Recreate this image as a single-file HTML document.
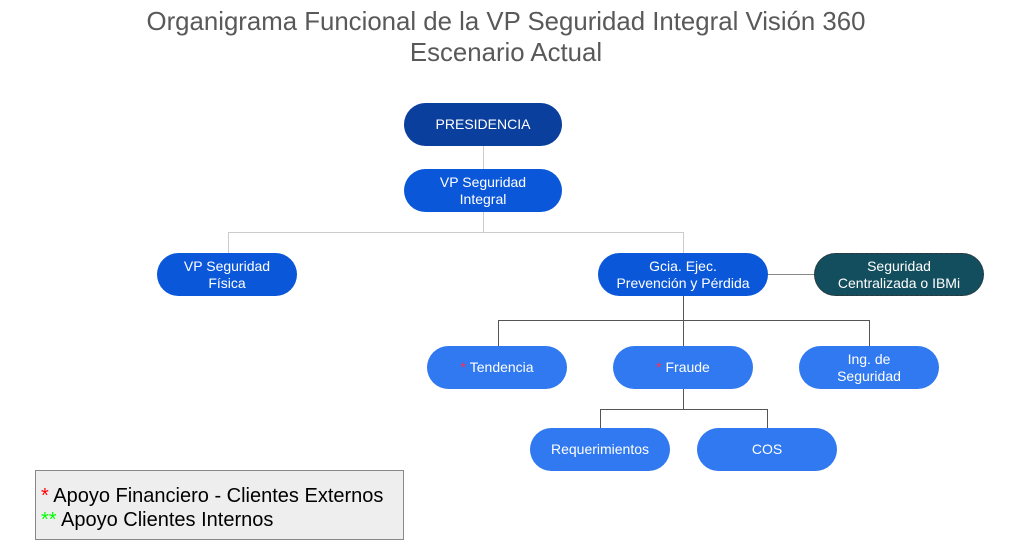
<!DOCTYPE html>
<html><head><meta charset="utf-8"><style>
body{margin:0;width:1022px;height:557px;background:#fff;position:relative;font-family:"Liberation Sans",sans-serif;overflow:hidden}
.t{position:absolute;left:0;width:1012px;text-align:center;color:#595959;font-size:25.8px;line-height:31px}
.n{position:absolute;height:43px;border-radius:22px;color:#fff;font-size:14px;line-height:17px;display:flex;align-items:center;justify-content:center;text-align:center;box-sizing:border-box}
.d{background:#0b3f9e}.m{background:#0b57d9}.l{background:#3079f0}
.h{position:absolute;background:#aaa;height:1px}.v{position:absolute;background:#aaa;width:1px}
.k{background:#555}
.r{color:#ff2d55}
</style></head><body>
<div class="t" style="top:7px">Organigrama Funcional de la VP Seguridad Integral Visión 360</div>
<div class="t" style="top:38px">Escenario Actual</div>

<div class="v" style="left:483px;top:146px;height:23px;background:#ccc"></div>
<div class="v" style="left:483px;top:212px;height:20px;background:#ccc"></div>
<div class="h" style="left:228px;top:232px;width:456px;background:#ccc"></div>
<div class="v" style="left:228px;top:232px;height:21px;background:#ccc"></div>
<div class="v" style="left:683px;top:232px;height:21px;background:#ccc"></div>
<div class="h" style="left:768px;top:274px;width:46px;background:#888"></div>
<div class="v k" style="left:683px;top:296px;height:50px"></div>
<div class="h k" style="left:498px;top:320px;width:372px"></div>
<div class="v k" style="left:498px;top:320px;height:26px"></div>
<div class="v k" style="left:869px;top:320px;height:26px"></div>
<div class="v k" style="left:683px;top:389px;height:20px"></div>
<div class="h k" style="left:600px;top:409px;width:168px"></div>
<div class="v k" style="left:600px;top:409px;height:19px"></div>
<div class="v k" style="left:767px;top:409px;height:19px"></div>

<div class="n d" style="left:404px;top:103px;width:158px">PRESIDENCIA</div>
<div class="n m" style="left:404px;top:169px;width:158px">VP Seguridad<br>Integral</div>
<div class="n m" style="left:157px;top:253px;width:140px">VP Seguridad<br>Física</div>
<div class="n m" style="left:598px;top:253px;width:170px">Gcia. Ejec.<br>Prevención y Pérdida</div>
<div class="n" style="left:814px;top:253px;width:170px;background:#134e5e;border:1px dashed #333">Seguridad<br>Centralizada o IBMi</div>
<div class="n l" style="left:427px;top:346px;width:140px"><span class="r">*</span>&nbsp;Tendencia</div>
<div class="n l" style="left:613px;top:346px;width:140px"><span class="r">*</span>&nbsp;Fraude</div>
<div class="n l" style="left:799px;top:346px;width:140px">Ing. de<br>Seguridad</div>
<div class="n l" style="left:530px;top:428px;width:140px">Requerimientos</div>
<div class="n l" style="left:697px;top:428px;width:140px">COS</div>

<div style="position:absolute;left:35px;top:470px;width:369px;height:70px;box-sizing:border-box;background:#eee;border:1px solid #888;padding:13px 0 0 5px;font-size:20px;line-height:24px;color:#000">
<span style="color:#f00">*</span> Apoyo Financiero - Clientes Externos<br><span style="color:#0f0">**</span> Apoyo Clientes Internos</div>
</body></html>
